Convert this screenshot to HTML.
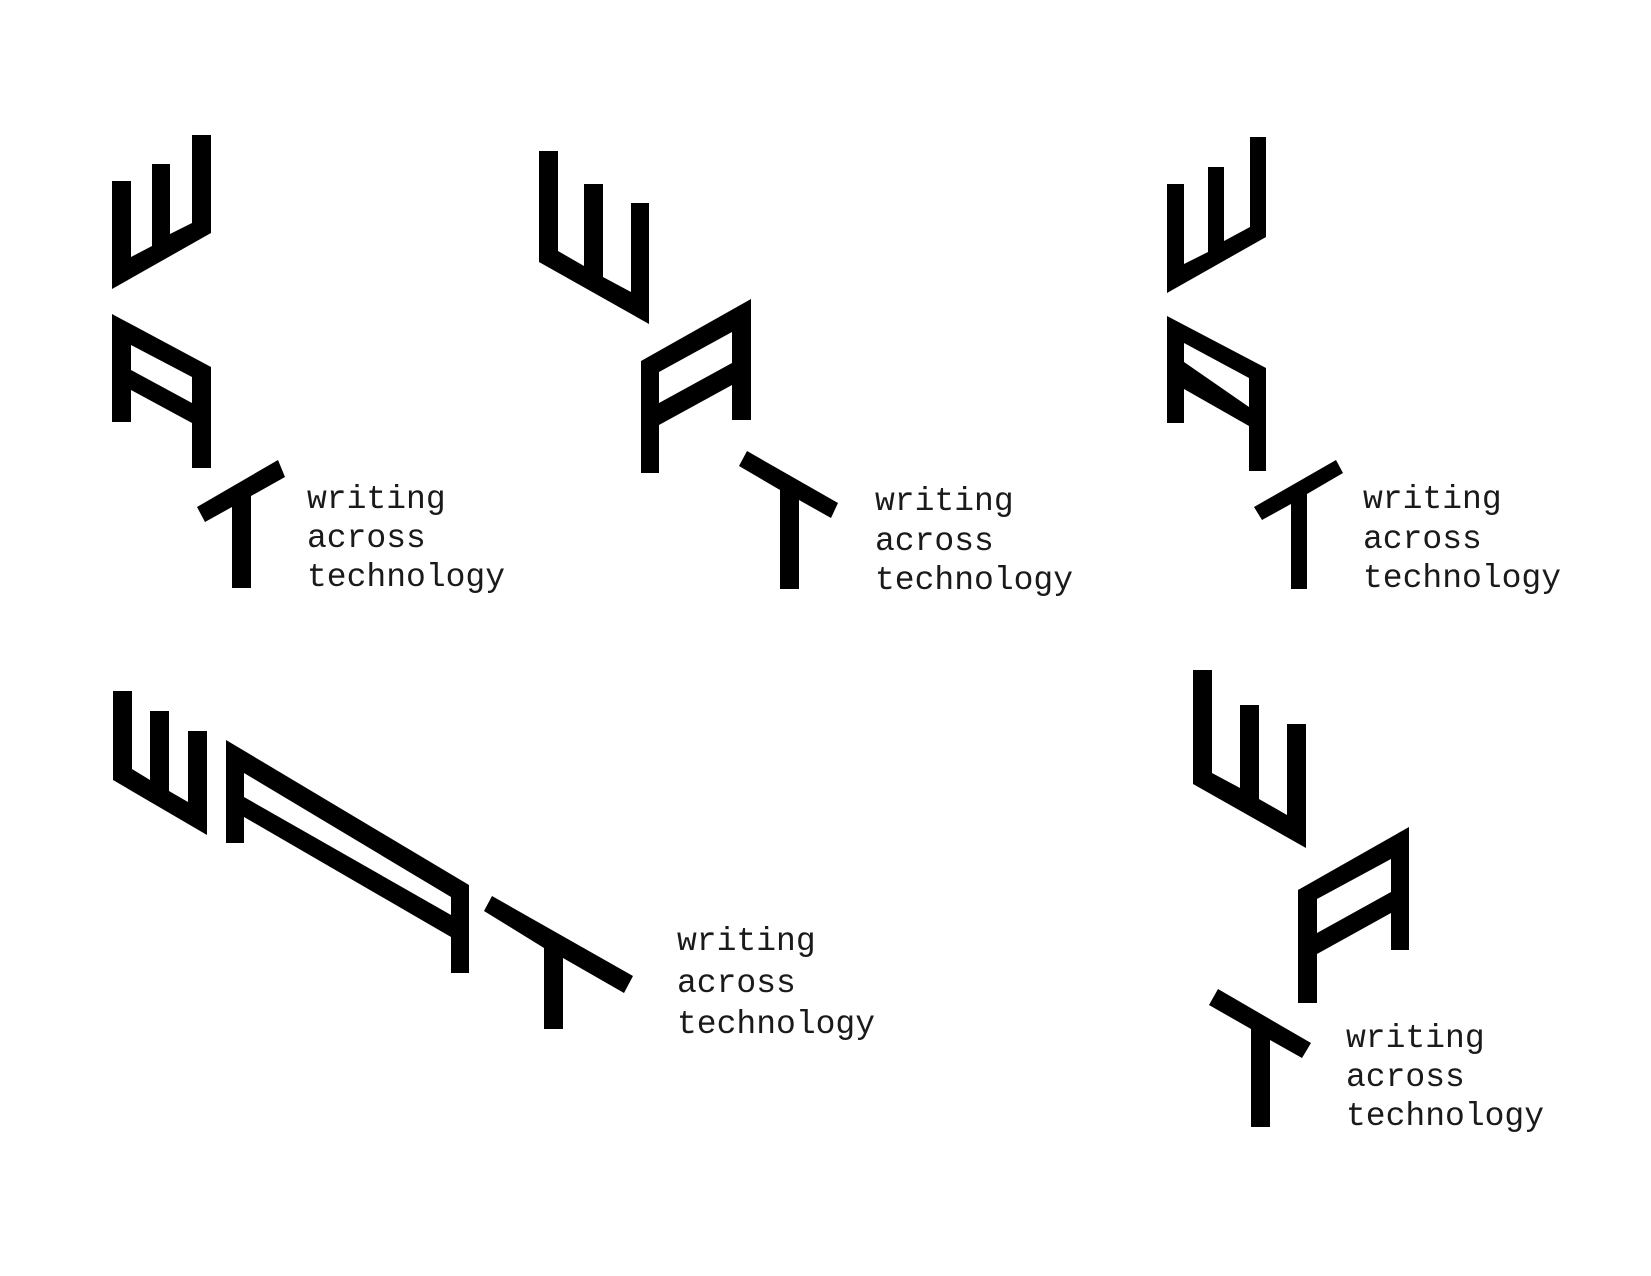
<!DOCTYPE html>
<html><head><meta charset="utf-8"><style>
html,body{margin:0;padding:0;background:#fff;}
svg{display:block}
text{font-family:"Liberation Mono",monospace;font-size:33px;fill:#1a1a1a;}
</style></head><body>
<svg width="1651" height="1276" viewBox="0 0 1651 1276" xmlns="http://www.w3.org/2000/svg">
<rect width="1651" height="1276" fill="#fff"/>
<g fill="#000" fill-rule="evenodd">
<!-- Logo 1 -->
<polygon points="112,289 112,181 131,181 131,257 152,246 152,164 170,164 170,234 192,223 192,135 211,135 211,233"/>
<path d="M112,422 L112,314 L211,367 L211,468 L192,468 L192,423 L131,390 L131,422 Z M131,345 L192,377 L192,403 L131,370 Z"/>
<polygon points="197,507 278,460 285,477 251,496 251,588 232,588 232,507 205,522"/>
<!-- Logo 2 -->
<polygon points="539,151 558,151 558,251 584,266 584,184 603,184 603,277 631,292 631,203 649,203 649,324 539,262"/>
<path d="M641,473 L641,361 L751,299 L751,420 L732,420 L732,385 L659,425 L659,473 Z M659,372 L732,332 L732,363 L659,403 Z"/>
<polygon points="747,451 838,503 831,518 799,500 799,589 780,589 780,490 739,466"/>
<!-- Logo 3 -->
<polygon points="1167,293 1167,184 1184,184 1184,264 1208,252 1208,167 1224,167 1224,241 1250,227 1250,137 1266,137 1266,237"/>
<path d="M1167,423 L1167,316 L1266,368 L1266,471 L1249,471 L1249,426 L1184,389 L1184,423 Z M1184,343 L1249,378 L1249,407 L1184,362 Z"/>
<polygon points="1254,507 1336,460 1343,473 1307,494 1307,589 1291,589 1291,504 1262,520"/>
<!-- Logo 4 -->
<polygon points="113,691 132,691 132,769 150,780 150,711 169,711 169,791 188,802 188,731 207,731 207,835 113,780"/>
<path d="M226,843 L226,740 L469,885 L469,973 L451,973 L451,937 L244,817 L244,843 Z M244,773 L451,897 L451,915 L244,797 Z"/>
<polygon points="492,896 633,976 624,993 563,958 563,1029 544,1029 544,948 484,911"/>
<!-- Logo 5 -->
<polygon points="1193,670 1212,670 1212,773 1240,788 1240,705 1259,705 1259,799 1287,815 1287,724 1306,724 1306,848 1193,784"/>
<path d="M1298,1003 L1298,890 L1409,827 L1409,950 L1391,950 L1391,913 L1317,954 L1317,1003 Z M1317,899 L1391,859 L1391,892 L1317,933 Z"/>
<polygon points="1218,989 1311,1043 1302,1058 1270,1040 1270,1127 1251,1127 1251,1029 1209,1005"/>
</g>
<text x="307" y="508">writing</text>
<text x="307" y="547">across</text>
<text x="307" y="586">technology</text>

<text x="875" y="510">writing</text>
<text x="875" y="550">across</text>
<text x="875" y="589">technology</text>

<text x="1363" y="508">writing</text>
<text x="1363" y="548">across</text>
<text x="1363" y="587">technology</text>

<text x="677" y="950">writing</text>
<text x="677" y="992">across</text>
<text x="677" y="1033">technology</text>

<text x="1346" y="1047">writing</text>
<text x="1346" y="1086">across</text>
<text x="1346" y="1125">technology</text>
</svg>
</body></html>
